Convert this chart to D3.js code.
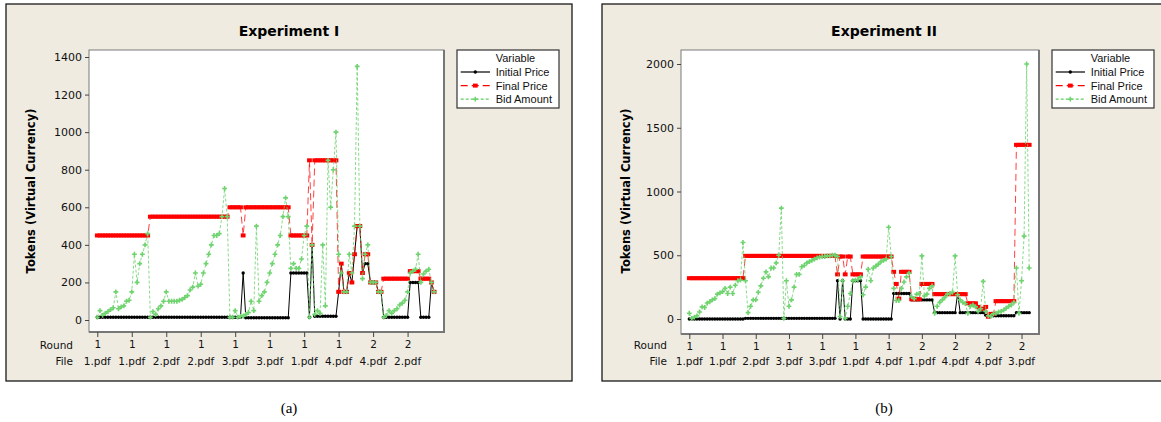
<!DOCTYPE html>
<html>
<head>
<meta charset="utf-8">
<script src="https://cdn.jsdelivr.net/npm/d3@7.9.0/dist/d3.min.js"></script>
<style>
  body { margin: 0; background: #fff; }
  svg { display: block; font-family: "DejaVu Sans", Verdana, sans-serif; }
</style>
</head>
<body>
<svg id="chart" width="1161" height="422"></svg>
<script>
// ---- Experiment I ----
const roundTicksI = ['1','1','1','1','1','1','1','1','2','2'];
const fileTicksI = ['1.pdf','1.pdf','2.pdf','2.pdf','3.pdf','3.pdf','1.pdf','4.pdf','4.pdf','2.pdf'];
const yTicksI = [0,200,400,600,800,1000,1200,1400];
const initialI = [
  15,15,15,15,15,15,15,15,15,15, 15,15,15,15,15,15,15,15,15,15,
  15,15,15,15,15,15,15,15,15,15, 15,15,15,15,15,15,15,15,15,15,
  15,15,15,15,15,15,15,15,15,15, 15,15,15,15,15,
  250,
  12,12,12,12,12,12,12,12,12,12, 12,12,12,12,12,12,12,
  250,250,250,250,250,250,250,
  15,400,
  20,20,20,20,20,20,20,20,20,
  150,300,150,150,250,200,350,500,500,250,300,300,200,200,200,150,150,
  15,15,15,15,15,15,15,15,15,15,
  200,200,200,200,
  15,15,15,15,
  200,150
];
const finalI = [
  450,450,450,450,450,450,450,450,450,450, 450,450,450,450,450,450,450,450,450,450,
  550,550,550,550,550,550,550,550,550,550, 550,550,550,550,550,550,550,550,550,550,
  550,550,550,550,550,550,550,550,550,550,
  600,600,600,600,600,
  450,
  600,600,600,600,600,600,600,600,600,600, 600,600,600,600,600,600,600,
  450,450,450,450,450,450,450,
  850,400,
  850,850,850,850,850,850,850,850,850,
  150,300,150,150,250,200,350,500,500,250,350,350,200,200,200,150,150,
  220,220,220,220,220,220,220,220,220,220,
  260,260,260,260,
  220,220,220,220,
  200,150
];
const bidI = [
  15,50,25,35,45,55,65,150,60,70, 75,100,105,150,350,200,300,350,400,460,
  15,45,30,60,75,100,150,100,100,100, 100,105,110,120,130,160,175,250,180,190,
  250,300,350,400,450,450,460,550,700,550,
  15,15,50,15,20,20,30,40,100,50, 500,100,130,150,200,250,300,350,400,450,
  550,650,550,
  275,300,275,275,325,450,500,
  15,400,
  30,50,35,400,75,850,600,800,1000,
  350,250,150,150,350,250,500,1350,500,220,350,400,200,200,200,150,150,
  15,25,50,35,50,60,80,90,105,150, 250,260,270,350,200,245,260,270,200,150
];

// ---- Experiment II ----
const roundTicksII = ['1','1','1','1','1','1','1','2','2','2','2'];
const fileTicksII = ['1.pdf','1.pdf','2.pdf','3.pdf','3.pdf','1.pdf','4.pdf','1.pdf','4.pdf','4.pdf','3.pdf'];
const yTicksII = [0,500,1000,1500,2000];
const initialII = [
  0,0,0,0,0,0,0,0,0,0, 0,0,0,0,0,0,0,0,0,0, 0,0,
  5,5,5,5,5,5,5,5,5,5, 5,5,5,5,5,5,5,5,5,5, 5,5,5,5,5,5,5,5,5,5, 5,5,5,5,5,5,
  300,0,300,0,0,0,
  300,300,300,300,
  0,0,0,0,0,0,0,0,0,0,0,0,
  200,200,200,200,200,200,200,
  150,150,150,150,150,150,150,150,150,
  50,50,50,50,50,50,50,50,50,
  200,
  50,50,50,50,50,50,50,50,50,
  50,30,20,25,25,
  25,25,25,25,25,25,25,25,
  50,50,50,50,50,50
];
const finalII = [
  320,320,320,320,320,320,320,320,320,320, 320,320,320,320,320,320,320,320,320,320, 320,320,
  495,495,495,495,495,495,495,495,495,495, 495,495,495,495,495,495,495,495,495,495,
  495,495,495,495,495,495,495,495,495,495, 495,495,495,495,495,495,
  350,490,490,350,490,490,
  350,350,350,350,
  490,490,490,490,490,490,490,490,490,490,490,490,
  370,275,160,
  370,370,370,370,
  155,155,155,155,
  275,275,275,275,275,
  195,195,195,195,195,195,195,195,195,195,195,195,195,
  123,123,123,123,
  95,80,80,95,18,40,40,
  140,140,140,140,140,140,140,140,
  1366,1366,1366,1366,1366,1366
];
const bidII = [
  45,5,15,25,55,95,90,125,135,150, 160,195,205,215,240,200,250,200,265,300, 305,600,
  300,50,100,150,150,210,260,320,370,330, 400,400,440,500,870,5,300,100,150,250,
  350,350,410,420,440,450,460,470,480,485, 490,490,495,495,500,500,
  490,20,300,5,100,200,300,305,310,330, 190,250,390,300,400,415,430,450,460,470, 720,490,
  240,145,145,240,290,330,360,175,160,195, 200,495,180,195,240,260,45,100,130,150,
  170,195,200,210,495,190,150,130,120,45, 100,110,95,60,80,295,60,25,20,40,
  45,55,60,70,85,100,110,130,400,45, 300,650,2000,400
];

const tickStep = 13; // stamp ticks every 13 observations

const svg = d3.select('#chart');

const seriesStyle = [
  {label: 'Initial Price', color: '#000000', dash: null, marker: 'circle'},
  {label: 'Final Price', color: '#ff0000', dash: '7,4', marker: 'square'},
  {label: 'Bid Amount', color: '#62cd62', dash: '3,2', marker: 'cross'}
];

function drawMarkers(g, pts, style){
  if(style.marker === 'circle'){
    g.selectAll(null).data(pts).join('circle')
      .attr('cx', d => d[0]).attr('cy', d => d[1]).attr('r', 1.7)
      .attr('fill', style.color);
  } else if(style.marker === 'square'){
    g.selectAll(null).data(pts).join('rect')
      .attr('x', d => d[0]-2.4).attr('y', d => d[1]-2)
      .attr('width', 4.8).attr('height', 4)
      .attr('fill', style.color);
  } else {
    const sym = d3.symbol().type(d3.symbolCross).size(13);
    g.selectAll(null).data(pts).join('path')
      .attr('transform', d => `translate(${d[0]},${d[1]})`)
      .attr('d', sym())
      .attr('fill', '#6fd46f');
  }
}

function drawPanel(p){
  const g = svg.append('g');

  // panel background + frame
  g.append('rect')
    .attr('x', p.frame[0]).attr('y', p.frame[1])
    .attr('width', p.frame[2]).attr('height', p.frame[3])
    .attr('fill', '#efebe1').attr('stroke', '#1a1a1a').attr('stroke-width', 1.3);

  // plot area
  g.append('rect')
    .attr('x', p.plot[0]).attr('y', p.plot[1])
    .attr('width', p.plot[2]).attr('height', p.plot[3])
    .attr('fill', '#fff').attr('stroke', '#7a7a7a').attr('stroke-width', 1);
  g.append('path')
    .attr('d', `M${p.plot[0]+p.plot[2]},${p.plot[1]}V${p.plot[1]+p.plot[3]}H${p.plot[0]}`)
    .attr('fill', 'none').attr('stroke', '#777').attr('stroke-width', 2);

  const n = d3.max(p.series, s => s.length);
  const x = d3.scaleLinear().domain([0, n-1]).range(p.xRange);
  const y = d3.scaleLinear().domain([0, p.yTicks[p.yTicks.length-1]]).range(p.yRange);

  // title
  g.append('text')
    .attr('x', p.titleX).attr('y', 36)
    .attr('text-anchor', 'middle')
    .attr('font-size', 14).attr('font-weight', 'bold')
    .text(p.title);

  // y axis
  const yAxis = g.append('g')
    .attr('transform', `translate(${p.plot[0]},0)`)
    .call(d3.axisLeft(y).tickValues(p.yTicks).tickSize(4).tickPadding(3).tickFormat(d3.format('d')));
  yAxis.select('.domain').remove();
  yAxis.selectAll('text').attr('font-size', 11).attr('font-family', '"DejaVu Sans", sans-serif').attr('fill', '#111');
  yAxis.selectAll('line').attr('stroke', '#444');

  g.append('text')
    .attr('transform', `translate(${p.yLabelX},191) rotate(-90)`)
    .attr('text-anchor', 'middle')
    .attr('font-size', 11.5).attr('font-weight', 'bold')
    .text('Tokens (Virtual Currency)');

  // x axis with stamp rows
  const tickIdx = p.roundTicks.map((r, i) => i * tickStep);
  const xAxis = g.append('g')
    .attr('transform', `translate(0,${p.plot[1]+p.plot[3]})`)
    .call(d3.axisBottom(x).tickValues(tickIdx).tickSize(5).tickPadding(4)
      .tickFormat((d, i) => p.roundTicks[i]));
  xAxis.select('.domain').remove();
  xAxis.selectAll('text').attr('font-size', 10.5).attr('font-family', '"DejaVu Sans", sans-serif').attr('fill', '#111');
  xAxis.selectAll('line').attr('stroke', '#444');

  g.selectAll(null).data(tickIdx).join('text')
    .attr('x', d => x(d)).attr('y', 365)
    .attr('text-anchor', 'middle').attr('font-size', 10.5).attr('fill', '#111')
    .text((d, i) => p.fileTicks[i]);

  g.append('text').attr('x', p.stampX).attr('y', 349)
    .attr('text-anchor', 'end').attr('font-size', 10.5).attr('fill', '#111').text('Round');
  g.append('text').attr('x', p.stampX).attr('y', 365)
    .attr('text-anchor', 'end').attr('font-size', 10.5).attr('fill', '#111').text('File');

  // series
  p.series.forEach((vals, si) => {
    const st = seriesStyle[si];
    const pts = vals.map((v, i) => [x(i), y(v)]);
    const sg = g.append('g');
    sg.append('path')
      .attr('d', d3.line()(pts))
      .attr('fill', 'none')
      .attr('stroke', st.color)
      .attr('stroke-width', 1)
      .attr('stroke-opacity', si === 0 ? 1 : 0.75)
      .attr('stroke-dasharray', st.dash);
    drawMarkers(sg, pts, st);
  });

  // legend
  const lg = g.append('g').attr('transform', `translate(${p.legendX},50)`);
  lg.append('rect').attr('width', 102).attr('height', 58)
    .attr('fill', '#fff').attr('stroke', '#333').attr('stroke-width', 1.2);
  lg.append('text').attr('x', 38.7).attr('y', 12.3)
    .attr('font-family', '"Liberation Sans", Arial, sans-serif')
    .attr('font-size', 11).attr('fill', '#111').text('Variable');
  seriesStyle.forEach((st, i) => {
    const yy = 22 + i * 13.6;
    lg.append('line').attr('x1', 3.7).attr('x2', 33).attr('y1', yy).attr('y2', yy)
      .attr('stroke', st.color).attr('stroke-width', 1.2)
      .attr('stroke-dasharray', st.dash);
    drawMarkers(lg, [[18.3, yy]], st);
    lg.append('text').attr('x', 38.7).attr('y', yy + 4)
      .attr('font-family', '"Liberation Sans", Arial, sans-serif')
      .attr('font-size', 11).attr('fill', '#111').text(st.label);
  });

  // caption
  svg.append('text')
    .attr('x', p.titleX).attr('y', 413)
    .attr('text-anchor', 'middle')
    .attr('font-family', '"Liberation Serif", "Times New Roman", serif')
    .attr('font-size', 15)
    .text(p.caption);
}

drawPanel({
  title: 'Experiment I', caption: '(a)',
  frame: [6, 4, 566, 377], plot: [89, 50, 355, 282],
  xRange: [97.3, 434.1], yRange: [320, 57],
  yTicks: yTicksI, roundTicks: roundTicksI, fileTicks: fileTicksI,
  series: [initialI, finalI, bidI],
  titleX: 289, yLabelX: 35, stampX: 73, legendX: 457
});

drawPanel({
  title: 'Experiment II', caption: '(b)',
  frame: [602, 4, 600, 377], plot: [681, 50, 358, 284],
  xRange: [689.3, 1029.2], yRange: [319, 64],
  yTicks: yTicksII, roundTicks: roundTicksII, fileTicks: fileTicksII,
  series: [initialII, finalII, bidII],
  titleX: 884, yLabelX: 630, stampX: 667, legendX: 1052
});
</script>
</body>
</html>
